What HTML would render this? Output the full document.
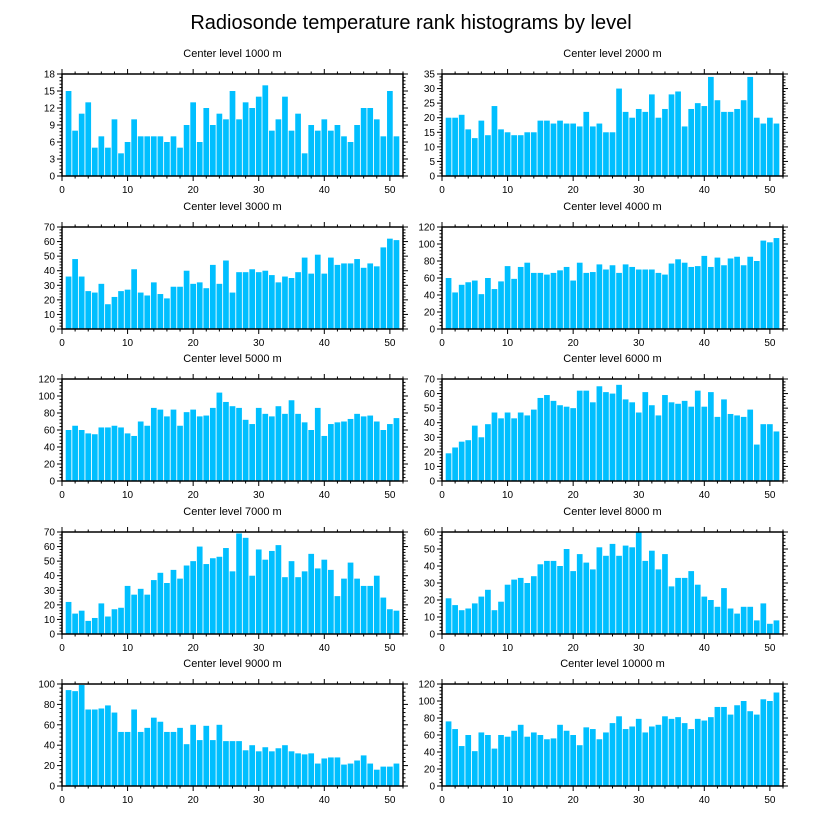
<!DOCTYPE html>
<html><head><meta charset="utf-8"><style>
html,body{margin:0;padding:0;background:#fff;}
svg{display:block;font-family:"Liberation Sans",sans-serif;}
</style></head><body>
<svg id="chart" width="822" height="824" viewBox="0 0 822 824" xmlns="http://www.w3.org/2000/svg">
<text x="411" y="29" text-anchor="middle" font-size="20">Radiosonde temperature rank histograms by level</text>
</svg>
<script>
const levels = ["1000","2000","3000","4000","5000","6000","7000","8000","9000","10000"];
const yMax = [18,35,70,120,120,70,70,60,100,120];
const yStep = [3,5,10,20,20,10,10,10,20,20];
const xTicks = [0,10,20,30,40,50];
const s1000 = [15,8,11,13,5,7,5,10,4,6,10,7,7,7,7,6,7,5,9,13,6,12,9,11,10,15,10,13,12,14,16,8,10,14,8,11,4,9,8,10,8,9,7,6,9,12,12,10,7,15,7];
const s2000 = [20,20,21,16,13,19,14,24,16,15,14,14,15,15,19,19,18,19,18,18,17,22,17,18,15,15,30,22,20,23,22,28,20,23,28,29,17,23,25,24,34,26,22,22,23,26,34,20,18,20,18];
const s3000 = [36,48,36,26,25,31,17,22,26,27,41,25,23,32,24,21,29,29,40,31,32,28,44,31,47,25,39,39,41,39,40,37,32,36,35,39,49,38,51,38,49,44,45,45,48,42,45,43,56,62,61];
const s4000 = [60,43,52,55,57,41,60,47,56,74,59,73,78,66,66,64,66,69,73,57,78,66,67,76,70,75,66,76,73,70,70,70,66,64,77,82,78,73,74,86,73,84,75,83,85,75,85,80,104,102,107];
const s5000 = [60,65,60,56,55,63,63,65,63,56,53,70,65,86,84,76,84,65,81,84,76,77,86,104,93,88,86,72,67,86,79,76,88,79,95,79,69,60,86,53,67,69,70,73,79,76,77,70,60,67,74];
const s6000 = [19,23,27,28,38,30,39,47,43,47,43,47,45,49,57,59,55,52,51,50,62,62,54,65,61,60,66,56,54,47,61,52,45,59,54,53,55,51,62,51,61,44,56,46,45,44,49,25,39,39,34];
const s7000 = [22,14,16,9,11,21,12,17,18,33,27,31,27,37,42,35,44,38,47,50,60,48,52,53,59,43,69,66,40,58,51,57,61,39,50,39,43,55,45,51,44,26,38,49,38,33,33,40,25,17,16];
const s8000 = [21,17,14,15,18,22,26,14,19,29,32,33,30,34,41,43,43,40,50,37,47,42,38,51,46,53,46,52,51,60,43,49,38,47,28,33,33,37,29,22,20,16,27,15,12,16,16,8,18,6,8];
const s9000 = [94,93,99,75,75,76,79,72,53,53,75,53,57,67,63,53,53,57,41,60,45,59,45,60,44,44,44,35,40,34,38,34,37,40,34,32,31,32,22,27,28,28,21,22,25,30,22,16,19,19,22];
const s10000 = [76,67,47,60,41,63,60,44,60,58,65,72,58,63,60,55,56,72,65,60,48,69,67,55,63,74,82,67,70,79,63,70,72,82,79,81,74,67,79,77,81,93,93,84,95,100,88,84,102,100,110];
const series = [s1000,s2000,s3000,s4000,s5000,s6000,s7000,s8000,s9000,s10000];

const NS = "http://www.w3.org/2000/svg";
const svg = document.getElementById("chart");
function mk(tag, attrs, parent){const e=document.createElementNS(NS,tag);for(const k in attrs)e.setAttribute(k,attrs[k]);parent.appendChild(e);return e;}

const colX = [62,442], W = 341, H = 102;
const rowY = [74,227,379,532,684];
for(let p=0;p<10;p++){
  const x0 = colX[p%2], y0 = rowY[Math.floor(p/2)];
  const g = mk("g",{},svg);
  
  
  const xs = v => x0 + v/52*W;
  const ys = v => y0 + H - v/yMax[p]*H;
  const t = mk("text",{x:x0+W/2,y:y0-17,"text-anchor":"middle","font-size":"11"},g);
  t.textContent = "Center level "+levels[p]+" m";
  
  
  const vals = series[p];
  for(let i=0;i<vals.length;i++){
    const r = mk("rect",{x:xs(i+1)-2.85,y:ys(vals[i]),width:5.7,height:ys(0)-ys(vals[i]),fill:"#00bfff"},g);
    
    
  }
  // x ticks
  for(let v=0;v<=52;v+=2){
    const maj = v%10===0, L = maj?5:2.5;
    mk("line",{x1:xs(v),x2:xs(v),y1:y0+H,y2:y0+H+L,stroke:"#000","stroke-width":"1"},g);
    mk("line",{x1:xs(v),x2:xs(v),y1:y0,y2:y0-L,stroke:"#000","stroke-width":"1"},g);
  }
  xTicks.forEach(v=>{
    const tl = mk("text",{x:xs(v),y:y0+H+17,"text-anchor":"middle","font-size":"10"},g);
    tl.textContent = v;
    
    
  });
  // y ticks
  const minor = yStep[p]/5;
  for(let k=0;k<=yMax[p]/minor+1e-6;k++){
    const v = k*minor, maj = k%5===0, L = maj?5:2.5;
    mk("line",{x1:x0,x2:x0-L,y1:ys(v),y2:ys(v),stroke:"#000","stroke-width":"1"},g);
    mk("line",{x1:x0+W,x2:x0+W+L,y1:ys(v),y2:ys(v),stroke:"#000","stroke-width":"1"},g);
    if(maj){
      const yl = mk("text",{x:x0-7,y:ys(v)+3.5,"text-anchor":"end","font-size":"10"},g);
      yl.textContent = Math.round(v);
      
      
    }
  }
  const fr = mk("rect",{x:x0,y:y0,width:W,height:H,fill:"none",stroke:"#000","stroke-width":"1.5"},g);
  
  
}
</script>
</body></html>
